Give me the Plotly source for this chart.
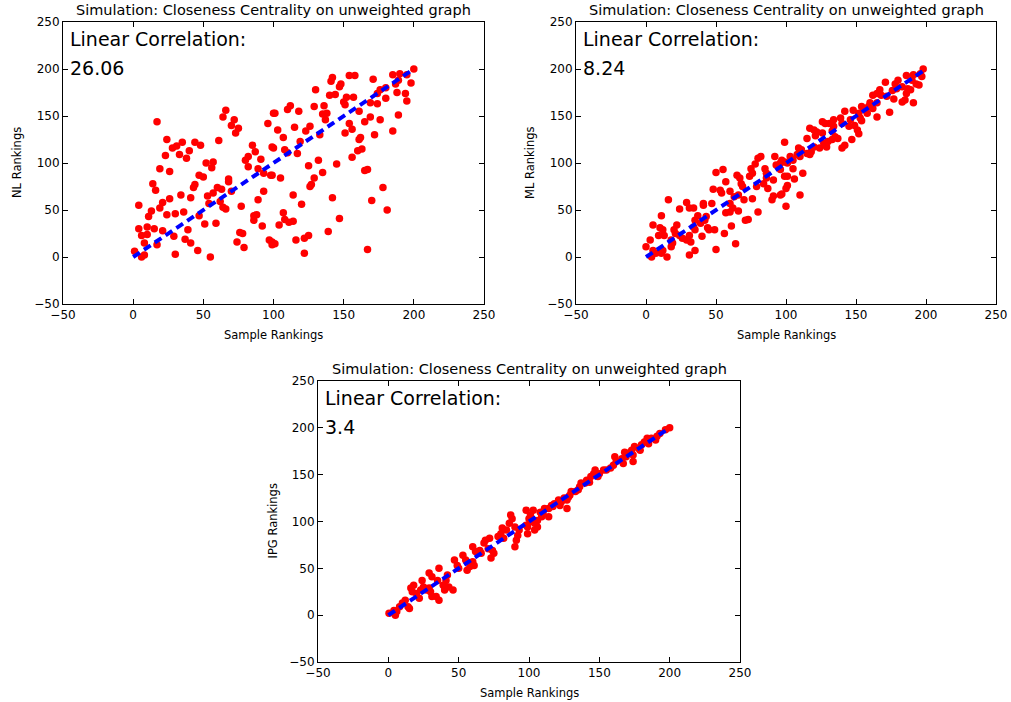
import plotly.graph_objects as go

W, H = 1011, 702

# ---------------- data ----------------
line_x = [0, 200]
line_y = [0, 200]

nl_pts = [
(17,144),(66,156),(64,149),(72,146),(70,140),(75,137),(73,132),(100,153),(96,142),(24,125),(35,122),(31,118),
(28,116),(33,109),(40,113),(38,105),(23,108),(44,122),(48,119),(61,124),(52,100),(57,101),(56,95),(19,94),
(26,91),(47,87),(50,85),(14,78),(16,71),(44,77),(43,74),(68,83),(68,80),(60,74),(63,72),(57,68),(53,65),
(54,57),(62,59),(64,53),(66,51),(70,70),(34,66),(26,62),(41,63),(21,58),(19,52),(4,55),(13,49),(11,43),
(24,45),(30,46),(36,48),(47,44),(51,35),(59,36),(77,54),(89,61),(93,70),(86,44),(88,45),(92,33),(86,39),
(4,30),(10,32),(15,30),(21,28),(6,23),(10,24),(39,29),(37,19),(41,15),(29,22),(8,15),(17,13),(46,7),(30,3),
(55,0),(1,6),(6,0),(8,2),(76,26),(78,25),(74,16),(79,10),(97,18),(99,13),
(85,119),(87,112),(80,103),(82,107),(91,104),(82,96),(89,94),(93,89),(98,87),(99,117),
(154,193),(158,193),(171,189),(142,191),(141,187),(148,184),(147,181),(130,178),(140,172),(144,173),(152,170),
(157,170),(150,165),(151,162),(176,178),(180,180),(185,194),(190,195),(195,194),(189,188),(187,184),(188,175),
(198,185),(194,174),(195,166),(180,169),(174,174),(169,164),(174,163),(189,151),(185,134),(176,146),(169,149),
(165,144),(172,130),(161,155),(154,142),(156,136),(151,132),(161,125),(162,127),(160,113),(163,115),(156,106),
(165,92),(167,93),(178,74),(170,60),(181,50),(167,8),(110,157),(112,161),(101,153),(118,155),(129,160),
(136,161),(135,152),(138,153),(137,146),(126,139),(123,134),(133,130),(115,138),(103,135),(107,127),(119,123),
(100,116),(108,114),(110,111),(117,110),(132,103),(125,97),(145,99),(135,90),(129,84),(127,77),(126,75),
(105,84),(99,87),(114,66),(120,56),(142,63),(107,47),(104,34),(108,40),(111,37),(114,38),(147,41),(139,27),
(116,18),(122,20),(125,23),(122,4),(99,16),(101,14),(200,200),
]

ml_pts = [
(99,122),(50,90),(55,93),(57,80),(48,72),(53,71),(60,70),(54,68),(65,87),(67,84),(68,78),(69,75),(63,64),
(66,66),(70,61),(76,62),(60,57),(62,52),(60,48),(57,47),(66,49),(73,40),(71,39),(80,48),(61,33),(64,14),
(56,25),(49,29),(50,8),(44,31),(45,29),(42,39),(43,43),(41,55),(41,57),(47,57),(39,36),(37,44),(35,39),
(34,52),(29,58),(31,52),(24,51),(16,61),(11,44),(5,34),(10,31),(12,29),(20,29),(22,34),(21,25),(13,23),
(18,18),(19,15),(18,11),(24,23),(26,20),(29,18),(31,23),(32,16),(40,22),(35,7),(31,2),(9,23),(3,18),(0,11),
(5,7),(7,4),(11,4),(15,0),(4,0),(12,7),(35,29),(34,32),(75,94),(78,99),(80,105),(82,107),(76,89),(74,86),
(79,75),(84,78),(85,94),(86,89),(86,84),(87,73),(91,65),(90,61),(92,107),(93,98),(91,82),(96,93),(99,101),
(97,67),(99,86),(100,73),(100,54),
(198,200),(196,195),(191,194),(186,193),(190,188),(197,192),(193,184),(195,183),(180,188),(178,184),(183,181),
(187,179),(179,179),(176,177),(171,186),(186,174),(189,178),(167,178),(165,174),(162,172),(168,172),(172,171),
(177,168),(183,165),(185,167),(191,164),(160,164),(159,160),(154,160),(158,153),(165,164),(162,158),(174,154),
(165,149),(142,155),(148,156),(152,153),(153,148),(154,145),(146,146),(145,139),(149,140),(151,135),(152,131),
(139,148),(140,142),(134,146),(131,142),(134,139),(133,134),(126,144),(128,142),(117,137),(120,135),(122,133),
(121,129),(126,132),(135,128),(137,126),(130,123),(133,125),(140,116),(142,119),(147,125),(115,126),(120,117),
(124,116),(127,121),(129,117),(109,116),(111,114),(115,110),(117,109),(118,112),(110,107),(108,109),(103,107),
(105,103),(101,100),(97,103),(96,100),(105,94),(112,89),(106,83),(101,86),(101,76),(96,66),(110,66),
]

ipg_pts = [
(0.5,2),(4,5),(6,4),(8,9),(10,13),(12,16),(5,0),(14,9),(15,7),(16,29),(18,32),(17,25),(20,23),(22,18),(23,27),
(25,30),(27,27),(24,37),(29,29),(30,25),(31,20),(34,20),(36,16),(29,45),(31,41),(36,50),(35,37),(39,32),(40,27),
(41,37),(42,43),(46,27),(43,30),(47,59),(49,53),(50,50),(53,64),(55,59),(56,48),(58,52),(60,57),(61,53),(60,73),
(62,68),(65,69),(66,66),(68,77),(69,80),(72,82),(74,69),(75,66),(73,61),(71,71),(78,84),(80,87),(81,93),(84,91),
(82,82),(86,98),(87,107),(88,103),(90,94),(91,80),(90,73),(92,85),(93,91),(98,96),(99,87),(100,103),(103,112),
(104,91),(101,107),
(200,200),(197,198),(193,194),(191,191),(190,187),(187,189),(185,183),(182,185),(180,182),(178,178),(175,180),
(173,176),(174,171),(171,173),(169,169),(168,174),(166,167),(161,169),(162,164),(160,160),(158,157),(155,155),
(153,155),(150,151),(149,148),(147,155),(146,151),(144,148),(143,142),(141,144),(140,141),(137,141),(136,137),
(135,134),(133,132),(130,132),(129,128),(128,126),(127,123),(125,125),(123,121),(121,123),(122,117),(118,119),
(117,116),(116,117),(114,114),(111,114),(110,109),(109,105),(108,110),(106,101),(105,100),(104,98),(102,101),
(101,100),(99,94),(98,112),(106,94),(127,114),(114,105),(167,162),(179,176),(184,189),(174,164),
]

nl_x = [p[0] for p in nl_pts]; nl_y = [p[1] for p in nl_pts]
ml_x = [p[0] for p in ml_pts]; ml_y = [p[1] for p in ml_pts]
ipg_x = [p[0] for p in ipg_pts]; ipg_y = [p[1] for p in ipg_pts]

title_text = "Simulation: Closeness Centrality on unweighted graph"
ylabels = ["NL Rankings", "ML Rankings", "IPG Rankings"]
xlabel = "Sample Rankings"
corr_values = ["26.06", "8.24", "3.4"]
tick_vals = [-50, 0, 50, 100, 150, 200, 250]

# ---------------- layout helpers (window pixels -> paper) ----------------
def px(x):
    return x / W

def py(y):
    return 1 - y / H

# axes boxes in window pixels: (left, right, top, bottom)
boxes = [(63, 484, 22, 304), (576, 996, 22, 304), (318, 740, 381, 662)]

FONT = "DejaVu Sans"
fig = go.Figure()

datasets = [(nl_x, nl_y), (ml_x, ml_y), (ipg_x, ipg_y)]
annotations = []
for i, ((l, r, t, b), (xs, ys)) in enumerate(zip(boxes, datasets)):
    n = "" if i == 0 else str(i + 1)
    xa, ya = "x" + n, "y" + n
    fig.add_trace(go.Scatter(x=xs, y=ys, mode="markers", xaxis=xa, yaxis=ya,
                             marker=dict(color="#ff0000", size=7.5, line=dict(width=0)),
                             showlegend=False, hoverinfo="skip"))
    fig.add_trace(go.Scatter(x=line_x, y=line_y, mode="lines", xaxis=xa, yaxis=ya,
                             line=dict(color="#0000ff", width=4, dash="8px,5px"),
                             showlegend=False, hoverinfo="skip"))
    axis_common = dict(range=[-50, 250], tickvals=tick_vals, ticks="inside", ticklen=5,
                       tickcolor="black", showline=True, linecolor="black", linewidth=1,
                       mirror="allticks", showgrid=False, zeroline=False, automargin=False,
                       tickfont=dict(family=FONT, size=12, color="black"))
    fig.layout["xaxis" + n] = dict(axis_common, domain=[px(l), px(r)], anchor=ya)
    fig.layout["yaxis" + n] = dict(axis_common, domain=[py(b), py(t)], anchor=xa)

    cx = (l + r) / 2
    cy = (t + b) / 2
    annotations.append(dict(text=title_text, x=px(cx), y=py(t - 2), xref="paper", yref="paper",
                            xanchor="center", yanchor="bottom", showarrow=False,
                            font=dict(family=FONT, size=14.5, color="black")))
    annotations.append(dict(text=xlabel, x=px(cx), y=py(b + 22), xref="paper", yref="paper",
                            xanchor="center", yanchor="top", showarrow=False,
                            font=dict(family=FONT, size=11.5, color="black")))
    annotations.append(dict(text=ylabels[i], x=px(l - 46), y=py(cy), xref="paper", yref="paper",
                            xanchor="center", yanchor="middle", showarrow=False, textangle=-90,
                            font=dict(family=FONT, size=11.5, color="black")))
    annotations.append(dict(text="Linear Correlation:", x=px(l + 5), y=py(t + 17), xref="paper",
                            yref="paper", xanchor="left", yanchor="middle", showarrow=False,
                            font=dict(family=FONT, size=19, color="black")))
    annotations.append(dict(text=corr_values[i], x=px(l + 5), y=py(t + 46), xref="paper",
                            yref="paper", xanchor="left", yanchor="middle", showarrow=False,
                            font=dict(family=FONT, size=19, color="black")))

fig.update_layout(width=W, height=H, margin=dict(l=0, r=0, t=0, b=0),
                  paper_bgcolor="white", plot_bgcolor="white",
                  annotations=annotations, font=dict(family=FONT))

fig.write_html("out.html", config={"displayModeBar": False, "staticPlot": True},
               post_script="document.body.style.margin='0';document.body.style.overflow='hidden';")
